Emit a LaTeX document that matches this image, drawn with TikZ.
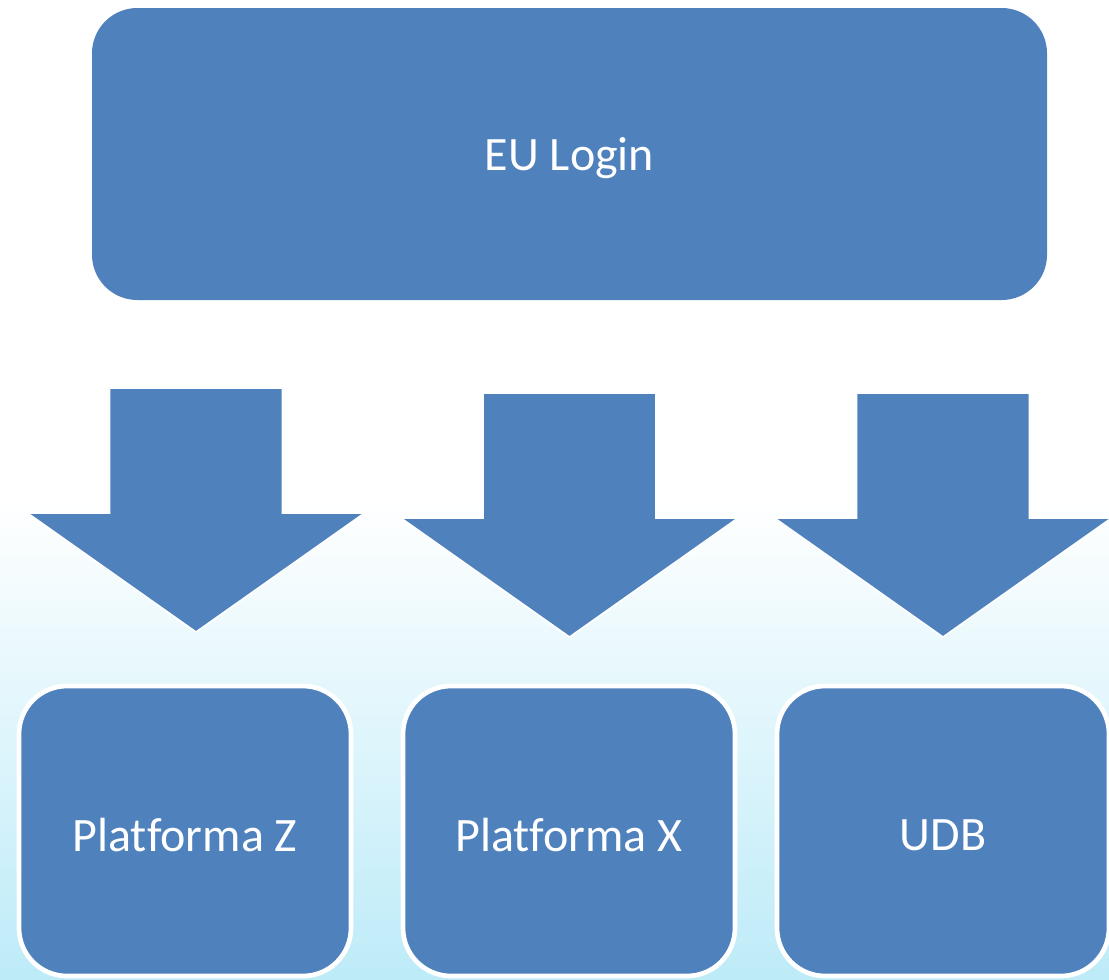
\documentclass[tikz,border=0pt]{standalone}
\usepackage{fontspec}
\setmainfont[Ligatures=NoCommon]{Carlito}
\definecolor{boxblue}{HTML}{4F81BD}
\definecolor{bgcyan}{HTML}{BDEBF8}
\begin{document}
\begin{tikzpicture}[x=0.75pt,y=-0.75pt,
  box/.style={draw=white, line width=3.5pt, fill=boxblue, rounded corners=36pt, inner sep=0pt},
  label/.style={text=white, font=\fontsize{36}{43}\selectfont},
  blockarrow/.style={draw=white, line width=1.2pt, fill=boxblue, line join=miter}]
\useasboundingbox (0,0) rectangle (1109,979);
\fill[white] (0,0) rectangle (1109,500);
\shade[top color=white, bottom color=bgcyan] (0,500) rectangle (1109,979);
% top box
\node[box, draw=none, rounded corners=34pt, minimum width=955*0.75pt, minimum height=292*0.75pt] (eu) at (569.5,154) {};
\node[label] (eut) at ([yshift=-3pt]eu.center) {EU Login};
% bottom boxes
\node[box, minimum width=332*0.75pt, minimum height=290*0.75pt] (pz) at (185,831) {};
\node[box, minimum width=332*0.75pt, minimum height=290*0.75pt] (px) at (569,831) {};
\node[box, minimum width=332*0.75pt, minimum height=290*0.75pt] (udb) at (943,831) {};
\node[label] (pzt) at ([yshift=-3pt]pz.center) {Platforma Z};
\node[label] (pxt) at ([yshift=-3pt]px.center) {Platforma X};
\node[label] (udbt) at ([yshift=-3pt]udb.center) {UDB};
% block arrows
\foreach \cx/\top/\nm in {196/388/a1, 569.5/393/a2, 943/393/a3}{
  \coordinate (\nm) at (\cx,\top);
  \path[blockarrow] ([xshift=-86.5*0.75pt]\nm) -- ([xshift=86.5*0.75pt]\nm)
    -- ++(0,125) -- ++(82,0) -- ([yshift=-244*0.75pt]\nm) -- ([xshift=-168.5*0.75pt,yshift=-125*0.75pt]\nm)
    -- ++(82,0) -- cycle;
}
\end{tikzpicture}
\end{document}
